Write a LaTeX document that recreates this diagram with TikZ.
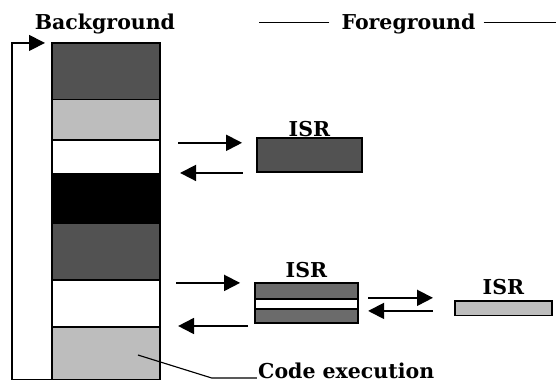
\documentclass[tikz,border=0pt]{standalone}
\usepackage{fontspec}
\setmainfont{DejaVu Serif}
\usetikzlibrary{positioning,arrows.meta}
\definecolor{stipdark}{gray}{0.32}
\definecolor{stipmid}{gray}{0.42}
\definecolor{stiplight}{gray}{0.74}
\tikzset{
    seg/.style={draw, line width=0.45mm, minimum width=37.9mm, inner sep=0pt, outer sep=0pt},
    isr/.style={draw, line width=0.5mm, inner sep=0pt, outer sep=0pt},
    lbl/.style={inner sep=0pt, font=\bfseries\fontsize{20.5}{24}\selectfont},
    flow/.style={line width=0.65mm, -{Triangle[length=5.6mm,width=5.6mm]}},
}
\begin{document}
\begin{tikzpicture}
        \useasboundingbox (0,0) rectangle (196.5mm,134.6mm);
        %Background column (top to bottom)
        \node[seg, fill=stipdark, minimum height=20mm] (seg1) at (37.25mm,109.5mm) {};
        \node[seg, fill=stiplight, minimum height=14.1mm, below=0mm of seg1] (seg2) {};
        \node[seg, fill=white, minimum height=11.9mm, below=0mm of seg2] (seg3) {};
        \node[seg, fill=black, minimum height=17.3mm, below=0mm of seg3] (seg4) {};
        \node[seg, fill=stipdark, minimum height=20mm, below=0mm of seg4] (seg5) {};
        \node[seg, fill=white, minimum height=16.5mm, below=0mm of seg5] (seg6) {};
        \node[seg, fill=stiplight, minimum height=18.6mm, below=0mm of seg6] (seg7) {};
        \draw[flow, line width=0.5mm, shorten >=2.5mm] (seg7.south west) -- ++(-14.1mm,0) |- (seg1.north west);

        %Titles
        \node[lbl, anchor=base] (bg) at (36.9mm,124.1mm) {Background};
        \node[lbl, anchor=base] (fg) at (143.6mm,124.1mm) {Foreground};
        \draw[line width=0.35mm] ([xshift=-4.2mm,yshift=0.55mm]fg.west) -- ++(-24.6mm,0);
        \draw[line width=0.35mm] ([xshift=2.8mm,yshift=0.55mm]fg.east) -- ++(25.3mm,0);

        %ISR 1
        \node[isr, fill=stipdark, minimum width=36.9mm, minimum height=11.9mm] (isrA) at (108.75mm,80.15mm) {};
        \node[lbl, above=0.35mm of isrA] (isrAtxt) {ISR};
        \draw[flow, shorten <=6.4mm, shorten >=5.2mm] ([yshift=-1mm]seg3.north east) -- ([yshift=-1mm]seg3.north east -| isrA.west);
        \draw[flow, shorten <=4.9mm, shorten >=7.1mm] ([yshift=0.3mm]seg3.south east -| isrA.west) -- ([yshift=0.3mm]seg3.south east);

        %ISR 2 (interrupted)
        \node[isr, fill=white, minimum width=36.2mm, minimum height=14.1mm] (isrB) at (107.7mm,28.1mm) {};
        \filldraw[fill=stipmid, line width=0.5mm] (isrB.north west) rectangle ([yshift=-5.6mm]isrB.north east);
        \filldraw[fill=stipmid, line width=0.5mm] (isrB.south west) rectangle ([yshift=4.9mm]isrB.south east);
        \node[lbl, above=1.75mm of isrB] (isrBtxt) {ISR};
        \draw[flow, shorten <=5.7mm, shorten >=5.2mm] ([yshift=-1.05mm]seg6.north east) -- ([yshift=-1.05mm]seg6.north east -| isrB.west);
        \draw[flow, shorten <=2.4mm, shorten >=6.4mm] ([yshift=0.3mm]seg6.south east -| isrB.west) -- ([yshift=0.3mm]seg6.south east);

        %ISR 3 (nested)
        \node[isr, fill=stiplight, minimum width=34.1mm, minimum height=5.2mm] (isrC) at (176.95mm,26.2mm) {};
        \node[lbl, above=2.1mm of isrC] (isrCtxt) {ISR};
        \draw[flow, shorten <=3.6mm, shorten >=7.7mm] ([yshift=1.8mm]isrB.east) -- ([yshift=1.8mm]isrB.east -| isrC.west);
        \draw[flow, shorten <=7.7mm, shorten >=3.6mm] ([yshift=-2.8mm]isrB.east -| isrC.west) -- ([yshift=-2.8mm]isrB.east);

        %Code execution
        \node[lbl, anchor=base west] (code) at (90.7mm,1.7mm) {Code execution};
        \draw[line width=0.4mm] ([shift={(-7.7mm,-0.6mm)}]seg7.east) -- ([xshift=-16.2mm]code.base west) -- ([xshift=-0.4mm]code.base west);
\end{tikzpicture}
\end{document}
